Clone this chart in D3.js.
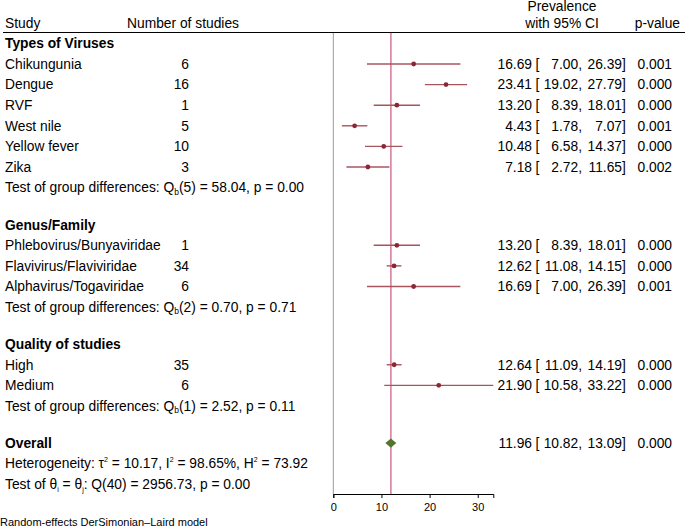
<!DOCTYPE html>
<html lang="en">
<head>
<meta charset="UTF-8">
<script src="https://d3js.org/d3.v7.min.js"></script>
<title>forest plot</title>
<style>
body { margin: 0; background: #fff; }
text { font-family: "Liberation Sans", Arial, sans-serif; fill: #000; }
</style>
</head>
<body>
<script type="text/javascript">

// data
var groupNames = ["Types of Viruses", "Genus/Family", "Quality of studies"];
var studyLabels = ["Chikungunia", "Dengue", "RVF", "West nile", "Yellow fever", "Zika",
                   "Phlebovirus/Bunyaviridae", "Flavivirus/Flaviviridae", "Alphavirus/Togaviridae",
                   "High", "Medium"];
var studyGroup = [0, 0, 0, 0, 0, 0, 1, 1, 1, 2, 2];
var nStudies = [6, 16, 1, 5, 10, 3, 1, 34, 6, 35, 6];
var est = [16.69, 23.41, 13.20, 4.43, 10.48, 7.18, 13.20, 12.62, 16.69, 12.64, 21.90];
var lo  = [7.00, 19.02, 8.39, 1.78, 6.58, 2.72, 8.39, 11.08, 7.00, 11.09, 10.58];
var hi  = [26.39, 27.79, 18.01, 7.07, 14.37, 11.65, 18.01, 14.15, 26.39, 14.19, 33.22];
var pval = ["0.001", "0.000", "0.000", "0.001", "0.000", "0.002", "0.000", "0.000", "0.001", "0.000", "0.000"];
var testDf = [5, 2, 1];
var testQ = ["58.04", "0.70", "2.52"];
var testP = ["0.00", "0.71", "0.11"];
var overall = [11.96, 10.82, 13.09];
var overallP = "0.000";
var xTicks = [0, 10, 20, 30];

var width = 685, height = 527;
var fs = "13.8px";
var svg = d3.select("body").append("svg").attr("width", width).attr("height", height);

var x = d3.scaleLinear().domain([0, 33.23]).range([333.3, 493.3]);
var y = d3.scaleLinear().domain([0, 1]).range([43.4, 64.0]);
var gap = 0.8;

var fmt = d3.format(".2f");

// build row layout
var rows = [];
var r = 0;
groupNames.forEach(function(g, gi) {
    rows.push({type: "head", text: g, r: r}); r++;
    studyGroup.forEach(function(sg, i) {
        if (sg === gi) { rows.push({type: "study", i: i, r: r}); r++; }
    });
    rows.push({type: "test", gi: gi, r: r}); r++;
    r += gap;
});
var overallRow = r;

var col = {study: 5, n: 189, est: 532, lbr: 535.5, low: 582, up: 622, p: 672};

function txt(xx, yy, s, anchor) {
    return svg.append("text").attr("x", xx).attr("y", yy).attr("dy", "0.35em")
        .attr("text-anchor", anchor || "start").style("font-size", fs).text(s);
}

// header
txt(col.study, 22.7, "Study");
txt(127, 22.7, "Number of studies");
txt(562, 6, "Prevalence", "middle");
txt(562, 22.7, "with 95% CI", "middle");
txt(680, 22.7, "p-value", "end");
svg.append("line").attr("x1", 3).attr("x2", width).attr("y1", 32.5).attr("y2", 32.5).attr("stroke", "#000").attr("stroke-width", 1);

// plot frame
var yTop = 33, yAxis = 494;
svg.append("line").attr("x1", x(0)).attr("x2", x(0)).attr("y1", yTop).attr("y2", yAxis)
    .attr("stroke", "#9a9a9a").attr("stroke-width", 1);
svg.append("line").attr("x1", x(overall[0])).attr("x2", x(overall[0])).attr("y1", yTop).attr("y2", yAxis)
    .attr("stroke", "#d9809e").attr("stroke-width", 1.6);

var axis = svg.append("g").attr("transform", "translate(0," + yAxis + ")")
    .call(d3.axisBottom(x).tickValues(xTicks).tickSizeOuter(0).tickSize(4));
axis.select(".domain").attr("stroke", "#000");
axis.selectAll(".tick line").attr("stroke", "#000");
axis.selectAll(".tick text").style("font-size", "11px").style("font-family", "Liberation Sans, Arial, sans-serif").attr("dy", "0.95em");

function ciText(yy, e, l, h, p) {
    txt(col.est, yy, fmt(e), "end");
    txt(col.lbr, yy, "[");
    txt(col.low, yy, fmt(l) + ",", "end");
    txt(col.up, yy, fmt(h), "end");
    txt(col.up, yy, "]");
    txt(col.p, yy, p, "end");
}

rows.forEach(function(d) {
    var yy = y(d.r);
    if (d.type === "head") {
        txt(col.study, yy, d.text).style("font-weight", "bold");
    } else if (d.type === "study") {
        var i = d.i;
        txt(col.study, yy, studyLabels[i]);
        txt(col.n, yy, nStudies[i], "end");
        svg.append("line").attr("x1", x(lo[i])).attr("x2", x(hi[i])).attr("y1", yy).attr("y2", yy)
            .attr("stroke", "#a8545e").attr("stroke-width", 1.4);
        svg.append("circle").attr("cx", x(est[i])).attr("cy", yy).attr("r", 2.4).attr("fill", "#8b2635");
        ciText(yy, est[i], lo[i], hi[i], pval[i]);
    } else {
        var t = txt(col.study, yy, "");
        t.append("tspan").text("Test of group differences: Q");
        t.append("tspan").attr("dy", "2.5px").style("font-size", "8.5px").text("b");
        t.append("tspan").attr("dy", "-2.5px").text("(" + testDf[d.gi] + ") = " + testQ[d.gi] + ", p = " + testP[d.gi]);
    }
});

// overall
var yo = y(overallRow);
txt(col.study, yo, "Overall").style("font-weight", "bold");
svg.append("path")
    .attr("d", "M" + x(overall[1]) + "," + yo + "L" + x(overall[0]) + "," + (yo - 4.6) +
               "L" + x(overall[2]) + "," + yo + "L" + x(overall[0]) + "," + (yo + 4.6) + "Z")
    .attr("fill", "#55752f");
ciText(yo, overall[0], overall[1], overall[2], overallP);

function sup(t, s) {
    t.append("tspan").attr("dy", "-6px").style("font-size", "7px").text(s);
}
var yh = y(overallRow + 1);
var th = txt(col.study, yh, "");
th.append("tspan").text("Heterogeneity: \u03c4");
sup(th, "2");
th.append("tspan").attr("dy", "6px").text(" = 10.17, I");
sup(th, "2");
th.append("tspan").attr("dy", "6px").text(" = 98.65%, H");
sup(th, "2");
th.append("tspan").attr("dy", "6px").text(" = 73.92");

var yt = y(overallRow + 2);
var tt = txt(col.study, yt, "");
tt.append("tspan").text("Test of \u03b8");
tt.append("tspan").attr("dy", "2.5px").style("font-size", "7px").text("i");
tt.append("tspan").attr("dy", "-2.5px").text(" = \u03b8");
tt.append("tspan").attr("dy", "2.5px").style("font-size", "7px").text("j");
tt.append("tspan").attr("dy", "-2.5px").text(": Q(40) = 2956.73, p = 0.00");

svg.append("text").attr("x", 0).attr("y", 522).attr("dy", "0.35em").style("font-size", "11px")
    .text("Random-effects DerSimonian\u2013Laird model");

</script>
</body>
</html>
